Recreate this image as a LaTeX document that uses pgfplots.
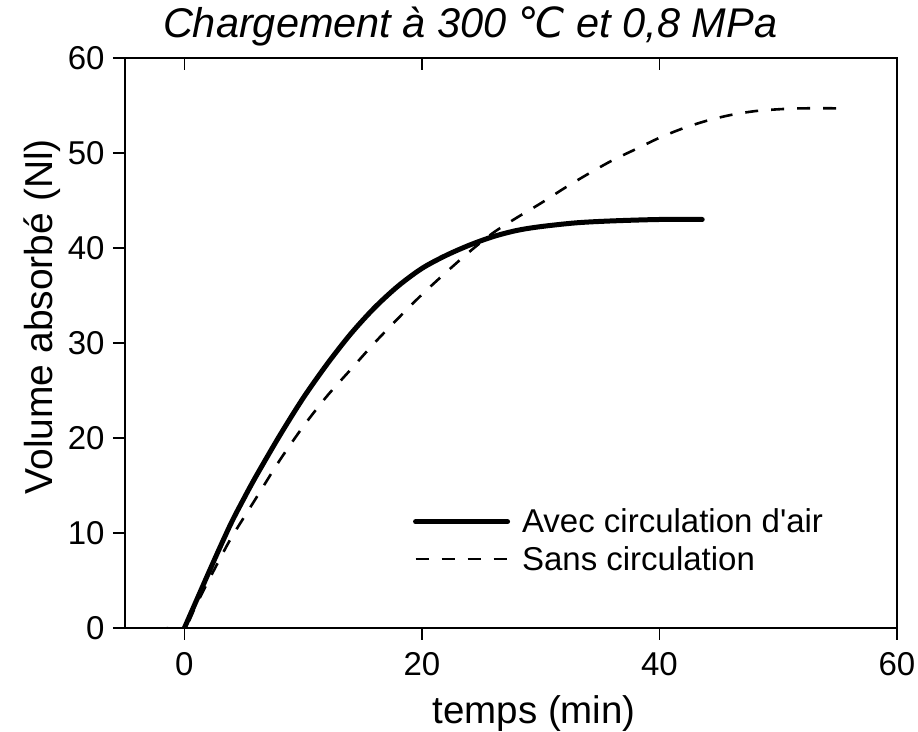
\documentclass[border=0pt]{standalone}
\usepackage{fontspec}
\setmainfont{Liberation Sans}[Ligatures=TeXOff]
\newfontfamily\dejavu{DejaVu Sans}
\usepackage{pgfplots}
\pgfplotsset{compat=1.18}
\begin{document}
\begin{tikzpicture}
\pgfplotsset{
  common/.style={
    scale only axis, width=772bp, height=570bp,
    xmin=-5, xmax=60, ymin=0, ymax=60,
    xtick={0,20,40,60}, ytick={0,10,...,60},
    major tick length=12bp,
    axis line style={line width=1.6bp},
    every tick/.style={black, line width=1.6bp},
  }
}
\begin{axis}[common, name=main,
  xtick pos=lower, ytick pos=left, tick align=outside,
  /pgf/number format/assume math mode=true,
  ticklabel style={font=\fontsize{33bp}{39bp}\selectfont},
  xticklabel style={yshift=-9bp},
  yticklabel style={xshift=-5bp},
  title={\itshape Chargement à 300 {\dejavu\itshape ℃} et 0,8 MPa},
  title style={at={(0.447,1.0246)}, anchor=base, font=\fontsize{41.5bp}{48bp}\selectfont},
  xlabel={temps (min)},
  xlabel style={at={(0.53,-0.1684)}, anchor=base, font=\fontsize{38.5bp}{45bp}\selectfont},
  ylabel={Volume absorbé (Nl)},
  ylabel style={at={(-0.0933,0.546)}, anchor=base, font=\fontsize{39bp}{45bp}\selectfont},
  legend style={at={(0.369,0.216)}, anchor=north west, draw=none, fill=none,
    font=\fontsize{33bp}{39bp}\selectfont, row sep=8bp, cells={anchor=west},
    /tikz/every odd column/.append style={column sep=10bp}},
  legend image code/.code={\draw[#1] (0bp,0bp) -- (92bp,0bp);},
]
\addplot[black, line width=5bp, line join=round, line cap=round, smooth, tension=0.5] table {
x y
0 0
1 2.85
2 5.7
3 8.5
4 11.2
5 13.6
6 15.9
8 20.2
10 24.2
12 27.75
14 30.95
16 33.7
18 36.0
20 37.85
22 39.2
24 40.3
26 41.2
28 41.85
30 42.25
33 42.65
36 42.85
40 43.0
43.6 43.0
};
\addlegendentry{Avec circulation d'air}
\addplot[black, line width=2.6bp, dash pattern=on 13bp off 13bp, smooth, tension=0.5] table {
x y
-1.5 0
0 0
1 2.45
2 4.9
3 7.3
4 9.6
6 13.6
8 17.6
10 21.2
12 24.4
14 27.2
16 30.0
18 32.6
20 35.1
22 37.4
24 39.6
26 41.6
28 43.2
30 44.7
32 46.3
34 47.8
36 49.2
38 50.4
40 51.6
42 52.6
44 53.4
46 54.0
48 54.4
50 54.6
52 54.7
55.7 54.7
};
\addlegendentry{Sans circulation}
\end{axis}
\begin{axis}[common, xtick pos=upper, ytick=\empty, tick align=inside, xticklabels={}]
\end{axis}
\pgfresetboundingbox
\path[use as bounding box] ([xshift=-125bp,yshift=-104bp]main.south west) rectangle ([xshift=21bp,yshift=58bp]main.north east);
\end{tikzpicture}
\end{document}
